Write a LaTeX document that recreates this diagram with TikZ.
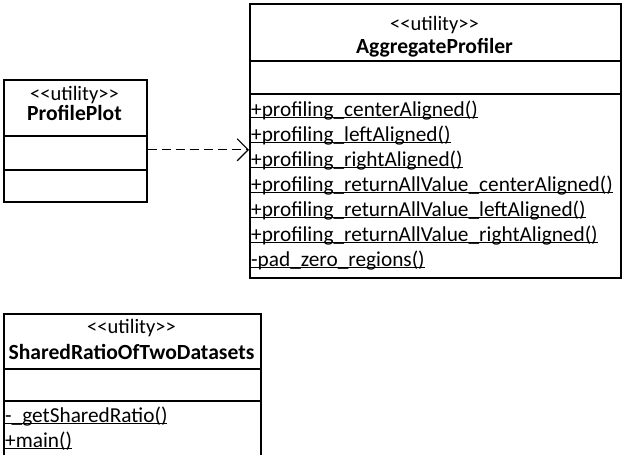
\documentclass[tikz,border=0pt]{standalone}
\usepackage{fontspec}
\setmainfont{Carlito}
\usetikzlibrary{arrows.meta}
\newsavebox\ulbox
\newcommand\ulin[1]{\sbox\ulbox{#1}\rlap{\rule[-2pt]{\wd\ulbox}{1.3pt}}\usebox\ulbox}
\newcommand\stereo{<\kern0pt<utility>\kern0pt>}
\tikzset{
  comp/.style={draw, line width=1.6pt, inner sep=0pt, anchor=north west},
  txt/.style={font=\fontsize{20.5}{24}\selectfont, inner sep=0pt},
  nametxt/.style={font=\fontsize{21.6}{24}\selectfont\bfseries, inner sep=0pt},
  optxt/.style={font=\fontsize{21.3}{24}\selectfont, inner sep=0pt, anchor=base west},
  dep/.style={line width=1.2pt, dash pattern=on 9pt off 5pt, -{Straight Barb[length=11pt,width=22pt]}}
}
\begin{document}
\begin{tikzpicture}[x=1pt,y=-1pt]
\useasboundingbox (0,0) rectangle (622,455);
\clip (0,0) rectangle (622,455);
% ProfilePlot
\node[comp, minimum width=143, minimum height=56] (ppH) at (3,79) {};
\node[comp, minimum width=143, minimum height=34] (ppA) at (3,135) {};
\node[comp, minimum width=143, minimum height=32] (ppO) at (3,169) {};
\node[txt] (ppS) at (74.5,95) {\stereo};
\node[nametxt] (ppN) at (74.5,113) {ProfilePlot};
% AggregateProfiler
\node[comp, minimum width=371, minimum height=57] (apH) at (249,3) {};
\node[comp, minimum width=371, minimum height=33] (apA) at (249,60) {};
\node[comp, minimum width=371, minimum height=184] (apO) at (249,93) {};
\node[txt] (apS) at (434.5,25) {\stereo};
\node[nametxt] (apN) at (434.5,48) {AggregateProfiler};
\node[optxt] (ap1) at (251,116) {\ulin{+profiling\_centerAligned()}};
\node[optxt] (ap2) at (251,141) {\ulin{+profiling\_leftAligned()}};
\node[optxt] (ap3) at (251,166) {\ulin{+profiling\_rightAligned()}};
\node[optxt] (ap4) at (251,191) {\ulin{+profiling\_returnAllValue\_centerAligned()}};
\node[optxt] (ap5) at (251,216) {\ulin{+profiling\_returnAllValue\_leftAligned()}};
\node[optxt] (ap6) at (251,241) {\ulin{+profiling\_returnAllValue\_rightAligned()}};
\node[optxt] (ap7) at (251,266) {\ulin{-pad\_zero\_regions()}};
% SharedRatioOfTwoDatasets
\node[comp, minimum width=257, minimum height=55] (sdH) at (3,313) {};
\node[comp, minimum width=257, minimum height=32] (sdA) at (3,368) {};
\node[comp, minimum width=257, minimum height=80] (sdO) at (3,400) {};
\node[txt] (sdS) at (131.5,328) {\stereo};
\node[nametxt] (sdN) at (131.5,352) {SharedRatioOfTwoDatasets};
\node[optxt] (sd1) at (5,422) {\ulin{-\_getSharedRatio()}};
\node[optxt] (sd2) at (5,447) {\ulin{+main()}};
% dependency
\draw[dep] ([yshift=3pt]ppA.east) -- ([yshift=3pt]ppA.east -| apO.west);
\end{tikzpicture}
\end{document}
